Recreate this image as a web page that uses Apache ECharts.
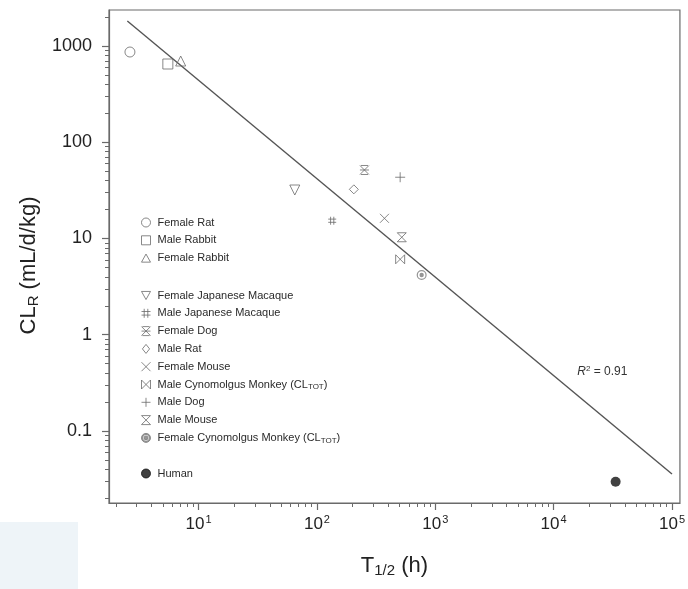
<!DOCTYPE html>
<html><head><meta charset="utf-8">
<script src="https://cdn.jsdelivr.net/npm/echarts@6/dist/echarts.min.js"></script>
<style>html,body{margin:0;padding:0;background:#fff}#c{width:688px;height:589px}</style>
</head><body><div id="c"></div>
<script>
// ---- data ----
const speciesNames = [
  'Female Rat', 'Male Rabbit', 'Female Rabbit',
  'Female Japanese Macaque', 'Male Japanese Macaque', 'Female Dog', 'Male Rat',
  'Female Mouse', 'Male Cynomolgus Monkey (CLTOT)', 'Male Dog', 'Male Mouse',
  'Female Cynomolgus Monkey (CLTOT)', 'Human'
];
const halfLives = [2.63, 5.5, 7.06, 65, 134.6, 252, 205, 372, 505, 505, 521, 767, 33400];
const clearances = [866, 650, 698, 31.9, 15.3, 51.5, 32.4, 16.2, 6.08, 43.3, 10.3, 4.18, 0.0297];
const fitLineX = [2.5, 100000];
const fitLineY = [1820, 0.0357];
const xTickValues = [10, 100, 1000, 10000, 100000];
const yTickValues = [0.1, 1, 10, 100, 1000];
const rSquaredText = 'R² = 0.91';
const rSquaredAt = [25800, 0.41];

// ---- styling ----
const X_MIN = 1.75, X_MAX = 116700, Y_MIN = 0.01786, Y_MAX = 2366;
const GRAY = '#6a6a6a';
const FONT = 'Liberation Sans, Arial, sans-serif';
const symbols = [
  'path://M5,0 A5,5 0 1,1 5,10 A5,5 0 1,1 5,0 Z',
  'path://M0,0 L10,0 L10,10 L0,10 Z',
  'path://M5,0 L10,9 L0,9 Z',
  'path://M0,0 L10,0 L5,9 Z',
  'path://M3,0 L3,10 M7,0 L7,10 M0,3 L10,3 M0,7 L10,7',
  'path://M1,0 L9,0 M1,10 L9,10 M0,0 L10,10 M10,0 L0,10 M0,5 L10,5',
  'path://M4,0 L8,5 L4,10 L0,5 Z',
  'path://M0,0 L10,10 M10,0 L0,10',
  'path://M0,0 L0,10 L10,0 L10,10 Z',
  'path://M5,0 L5,10 M0,5 L10,5',
  'path://M0,0 L10,0 L0,10 L10,10 Z',
  'path://M5,0 A5,5 0 1,1 5,10 A5,5 0 1,1 5,0 Z M5,1.2 A3.8,3.8 0 1,0 5,8.8 A3.8,3.8 0 1,0 5,1.2 Z M5,2.8 A2.2,2.2 0 1,1 5,7.2 A2.2,2.2 0 1,1 5,2.8 Z',
  'circle'
];
const sizes = [10, 10, 10, 10, 8, 9, 9, 9, 9, 10, 9, 10, 10];

function minorTicks(lo, hi) {
  const out = [];
  for (let e = -3; e <= 6; e++) {
    for (let k = 2; k <= 9; k++) {
      const v = k * Math.pow(10, e);
      if (v > lo && v < hi) out.push(v);
    }
  }
  return out;
}

function legendLabel(name) {
  if (name.indexOf('(CLTOT)') >= 0) {
    return '{t|' + name.replace('(CLTOT)', '(CL') + '}{s|TOT}{t|)}';
  }
  return '{t|' + name + '}';
}

const scatterSeries = speciesNames.map((name, i) => {
  let itemStyle;
  if (i === 12) itemStyle = { color: '#111', borderColor: '#111', borderWidth: 0 };
  else if (i === 11) itemStyle = { color: '#7a7a7a', borderColor: '#7a7a7a', borderWidth: 0 };
  else itemStyle = { color: 'transparent', borderColor: GRAY, borderWidth: 1 };
  return {
    name: name,
    type: 'scatter',
    xAxisIndex: 0, yAxisIndex: 0,
    symbol: symbols[i],
    symbolSize: sizes[i],
    itemStyle: itemStyle,
    data: [[halfLives[i], clearances[i]]],
    z: 5,
    silent: true
  };
});

const legendCommon = {
  orient: 'vertical', left: 136, itemWidth: 9, itemHeight: 9, itemGap: 4.8,
  selectedMode: false,
  itemStyle: { borderWidth: 1 },
  formatter: legendLabel,
  textStyle: {
    color: '#2a2a2a', fontFamily: FONT, fontSize: 11, lineHeight: 13, padding: [0, 0, 0, 2],
    rich: {
      t: { fontSize: 11, fontFamily: FONT, color: '#2a2a2a', lineHeight: 13 },
      s: { fontSize: 8, fontFamily: FONT, color: '#2a2a2a', lineHeight: 13, verticalAlign: 'bottom', padding: [5, 0, 0, 0] }
    }
  }
};

const chart = echarts.init(document.getElementById('c'), null, { renderer: 'canvas' });
chart.setOption({
  animation: false,
  backgroundColor: '#fff',
  graphic: [{ type: 'rect', left: 0, top: 522, shape: { width: 78, height: 67 }, style: { fill: '#eef4f8' }, z: -10 }],
  grid: { left: 109, right: 5, top: 10, bottom: 86, show: true, borderColor: GRAY, borderWidth: 1.2, backgroundColor: 'transparent' },
  legend: [
    Object.assign({}, legendCommon, { data: speciesNames.slice(0, 3), top: 211 }),
    Object.assign({}, legendCommon, { data: speciesNames.slice(3, 12), top: 284 }),
    Object.assign({}, legendCommon, { data: speciesNames.slice(12), top: 462 })
  ],
  xAxis: [
    {
      type: 'log', logBase: 10, min: X_MIN, max: X_MAX, position: 'bottom',
      name: '{m|T}{s|1/2}{m| (h)}', nameLocation: 'middle', nameGap: 50,
      nameTextStyle: {
        rich: {
          m: { fontSize: 22, fontFamily: FONT, color: '#222' },
          s: { fontSize: 15, fontFamily: FONT, color: '#222', verticalAlign: 'bottom', padding: [10, 0, 0, 0] }
        }
      },
      axisLine: { show: true, lineStyle: { color: GRAY, width: 1.2 } },
      axisTick: { show: true, length: 7, customValues: xTickValues, lineStyle: { color: GRAY, width: 1.2 } },
      axisLabel: {
        customValues: xTickValues, margin: 11,
        formatter: v => '{b|10}{p|' + Math.round(Math.log10(v)) + '}',
        rich: {
          b: { fontSize: 17, fontFamily: FONT, color: '#222' },
          p: { fontSize: 11, fontFamily: FONT, color: '#222', verticalAlign: 'top', padding: [0, 0, 9, 1] }
        }
      },
      splitLine: { show: false }, minorTick: { show: false }
    },
    {
      type: 'log', logBase: 10, min: X_MIN, max: X_MAX, position: 'bottom',
      axisLine: { show: false },
      axisTick: { show: true, length: 4, customValues: minorTicks(X_MIN, X_MAX), lineStyle: { color: GRAY, width: 1 } },
      axisLabel: { show: false }, splitLine: { show: false }
    }
  ],
  yAxis: [
    {
      type: 'log', logBase: 10, min: Y_MIN, max: Y_MAX, position: 'left',
      name: '{m|CL}{s|R}{m| (mL/d/kg)}', nameLocation: 'middle', nameGap: 66, nameRotate: 90,
      nameTextStyle: {
        padding: [0, 18, 0, 0],
        rich: {
          m: { fontSize: 22, fontFamily: FONT, color: '#222' },
          s: { fontSize: 15, fontFamily: FONT, color: '#222', verticalAlign: 'bottom', padding: [10, 0, 0, 0] }
        }
      },
      axisLine: { show: true, lineStyle: { color: GRAY, width: 1.2 } },
      axisTick: { show: true, length: 7, customValues: yTickValues, lineStyle: { color: GRAY, width: 1.2 } },
      axisLabel: {
        customValues: yTickValues, margin: 17, fontSize: 18, fontFamily: FONT, color: '#222',
        formatter: v => String(v)
      },
      splitLine: { show: false }
    },
    {
      type: 'log', logBase: 10, min: Y_MIN, max: Y_MAX, position: 'left',
      axisLine: { show: false },
      axisTick: { show: true, length: 4, customValues: minorTicks(Y_MIN, Y_MAX), lineStyle: { color: GRAY, width: 1 } },
      axisLabel: { show: false }, splitLine: { show: false }
    }
  ],
  series: [
    {
      type: 'line', name: 'fit', xAxisIndex: 0, yAxisIndex: 0,
      data: fitLineX.map((x, i) => [x, fitLineY[i]]),
      symbol: 'none', silent: true, z: 2,
      lineStyle: { color: '#555', width: 1.4 },
      markPoint: {
        silent: true,
        symbol: 'circle', symbolSize: 0,
        label: {
          show: true, position: 'inside',
          formatter: '{i|R}{p|2}{n| = 0.91}',
          rich: {
            i: { fontSize: 12, fontStyle: 'italic', fontFamily: FONT, color: '#333' },
            p: { fontSize: 8, fontFamily: FONT, color: '#333', verticalAlign: 'top', padding: [0, 0, 6, 0] },
            n: { fontSize: 12, fontFamily: FONT, color: '#333' }
          }
        },
        data: [{ coord: rSquaredAt, value: rSquaredText }]
      }
    }
  ].concat(scatterSeries)
});
</script>
</body></html>
